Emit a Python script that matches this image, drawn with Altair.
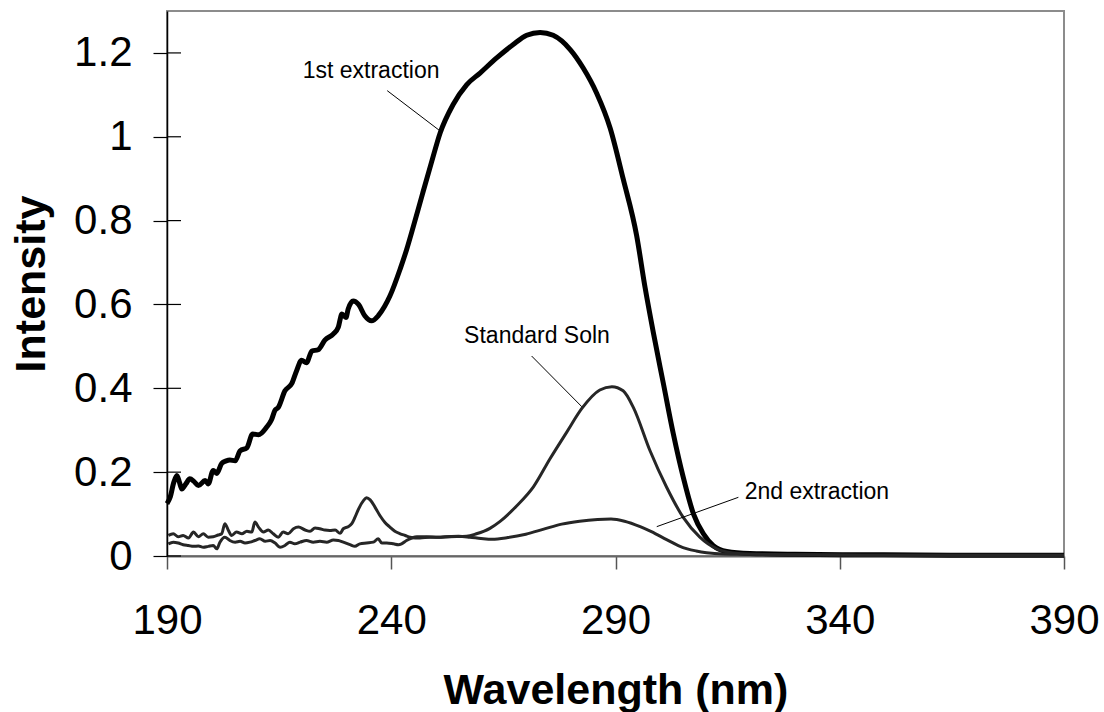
import altair as alt
import pandas as pd

# ---- data ----
wl_1st = [190, 190.7, 191.5, 192.2, 192.8, 193.3, 194.2, 195.1, 196, 197, 198.5, 199.2, 200.3, 201.1,
          202.2, 203.2, 204, 205.2, 206.3, 207.8, 209.1, 210.4, 212.2, 213.3, 214.1, 214.8, 216.3,
          217.8, 218.9, 220.0, 221.1, 222.3, 223.7, 225.2, 227.1, 228.2, 229.0, 229.9, 230.4, 231.5,
          232.7, 234.1, 235.6, 237.1, 238.5, 239.7, 242.0, 243.4, 244.9, 247, 249, 250.9, 253.8,
          256.8, 259.8, 263.5, 267.2, 270.2, 273.2, 276.1, 279.9, 282.8, 285.8, 288.8, 291.7, 294.7,
          296.6, 298.4, 300.7, 302.9, 305.1, 307.4, 309.6, 311.8, 314.8, 320, 330, 345, 365, 390]
int_1st = [0.125, 0.140, 0.175, 0.192, 0.175, 0.160, 0.172, 0.184, 0.178, 0.168, 0.180, 0.172, 0.204,
           0.197, 0.221, 0.227, 0.229, 0.227, 0.251, 0.258, 0.291, 0.289, 0.307, 0.325, 0.348, 0.354,
           0.394, 0.411, 0.442, 0.467, 0.461, 0.489, 0.492, 0.515, 0.530, 0.546, 0.577, 0.569, 0.589,
           0.608, 0.600, 0.573, 0.561, 0.573, 0.595, 0.620, 0.685, 0.730, 0.785, 0.865, 0.940, 1.009,
           1.077, 1.124, 1.152, 1.188, 1.220, 1.242, 1.249, 1.242, 1.208, 1.164, 1.104, 1.021, 0.900,
           0.765, 0.640, 0.535, 0.410, 0.291, 0.188, 0.100, 0.053, 0.025, 0.011, 0.006, 0.004, 0.003,
           0.002, 0.002]

wl_std = [190.3, 191.4, 192.5, 193.6, 194.8, 195.9, 197.0, 198.1, 199.2, 200.3, 201.1, 201.8, 202.9,
          204.0, 205.2, 206.3, 207.4, 208.5, 209.6, 210.7, 211.9, 213.0, 214.1, 215.2, 216.3, 217.4,
          218.5, 219.7, 221.1, 222.6, 224.1, 225.6, 227.1, 228.2, 229.3, 230.8, 231.9, 233.0, 234.5,
          236.0, 237.1, 237.9, 239.0, 240.5, 241.6, 242.3, 243.4, 244.6, 245.7, 247.9, 250.5, 253,
          256.8, 259, 262, 264.2, 268, 271.7, 275.4, 279.1, 282.5, 286.5, 289.2, 291.7, 294, 297.7,
          301.4, 305.1, 308.8, 312.6, 316.3, 320, 330, 345, 365, 390]
int_std = [0.029, 0.033, 0.031, 0.027, 0.025, 0.023, 0.024, 0.021, 0.023, 0.025, 0.017, 0.033, 0.045,
           0.037, 0.033, 0.035, 0.031, 0.033, 0.037, 0.041, 0.035, 0.037, 0.031, 0.021, 0.025, 0.033,
           0.029, 0.033, 0.037, 0.033, 0.035, 0.033, 0.038, 0.037, 0.033, 0.027, 0.023, 0.029, 0.031,
           0.033, 0.041, 0.031, 0.031, 0.029, 0.027, 0.029, 0.037, 0.043, 0.046, 0.046, 0.045, 0.046,
           0.047, 0.053, 0.066, 0.082, 0.120, 0.165, 0.232, 0.295, 0.352, 0.396, 0.404, 0.394, 0.354,
           0.251, 0.164, 0.092, 0.045, 0.017, 0.007, 0.004, 0.003, 0.002, 0.002, 0.002]

wl_2nd = [190.3, 191.4, 192.5, 193.6, 194.8, 195.9, 197.0, 198.1, 199.2, 200.3, 201.4, 202.2, 202.9,
          203.7, 204.4, 205.5, 206.7, 207.8, 208.9, 209.6, 210.4, 211.5, 212.6, 213.7, 214.8, 215.9,
          217.0, 218.2, 219.3, 220.8, 221.9, 223.0, 224.1, 225.2, 226.3, 227.5, 228.6, 229.3, 230.4,
          231.2, 231.9, 232.7, 233.8, 234.5, 235.3, 236.4, 237.5, 238.6, 239.7, 240.8, 242.0, 243.1,
          244.2, 245.3, 246.4, 248.6, 250.5, 252, 255, 257.5, 260, 262.5, 266, 270, 274, 278, 282,
          286, 289, 292, 295.5, 298, 301.4, 304, 306, 308, 310.3, 314, 320, 330, 345, 365, 390]
int_2nd = [0.049, 0.053, 0.046, 0.049, 0.043, 0.057, 0.046, 0.053, 0.045, 0.046, 0.050, 0.053, 0.077,
           0.061, 0.049, 0.057, 0.053, 0.059, 0.057, 0.081, 0.069, 0.057, 0.062, 0.053, 0.045, 0.057,
           0.053, 0.065, 0.069, 0.062, 0.059, 0.067, 0.065, 0.062, 0.061, 0.062, 0.054, 0.065, 0.070,
           0.077, 0.092, 0.112, 0.132, 0.139, 0.134, 0.116, 0.096, 0.080, 0.069, 0.059, 0.053, 0.049,
           0.045, 0.043, 0.043, 0.045, 0.045, 0.046, 0.047, 0.045, 0.042, 0.040, 0.044, 0.052, 0.064,
           0.076, 0.083, 0.087, 0.088, 0.083, 0.070, 0.058, 0.039, 0.025, 0.017, 0.012, 0.008, 0.005,
           0.004, 0.003, 0.002, 0.002, 0.002]

ann_text = ["1st extraction", "Standard Soln", "2nd extraction"]
ann_tx = [235.5, 272.5, 334.9]
ann_ty = [1.139, 0.508, 0.135]
lead_x1 = [239.1, 271.3, 317.4]
lead_y1 = [1.110, 0.477, 0.140]
lead_x2 = [251.25, 282.5, 299.2]
lead_y2 = [1.011, 0.356, 0.070]

x_ticks = [190, 240, 290, 340, 390]
y_ticks = [0, 0.2, 0.4, 0.6, 0.8, 1, 1.2]

# ---- tables ----
rows = []
for name, w, v in [("1st", wl_1st, int_1st), ("std", wl_std, int_std), ("2nd", wl_2nd, int_2nd)]:
    for a, b in zip(w, v):
        rows.append({"series": name, "wl": a, "val": b})
df = pd.DataFrame(rows)
ann = pd.DataFrame({"t": ann_text, "x": ann_tx, "y": ann_ty})
lead = pd.DataFrame({"x1": lead_x1, "y1": lead_y1, "x2": lead_x2, "y2": lead_y2})
yt = pd.DataFrame({"v": y_ticks})

FONT = "Liberation Sans"
W, H = 897, 545

xscale = alt.Scale(domain=[190, 390], nice=False, zero=False)
yscale = alt.Scale(domain=[0, 1.3], nice=False)

xaxis = alt.Axis(values=x_ticks, tickSize=13, tickColor="#555555", tickWidth=1.5,
                 domainColor="#666666", domainWidth=2, grid=False,
                 labelFont=FONT, labelFontSize=42, labelColor="black",
                 labelBaseline="alphabetic", labelPadding=64, labelFlush=False,
                 labelOverlap=False, labelBound=False,
                 title="Wavelength (nm)", titleFont=FONT, titleFontSize=43,
                 titleFontWeight="bold", titleColor="black",
                 titleX=W / 2, titleY=147, titleAlign="center", titleBaseline="alphabetic")

yaxis = alt.Axis(values=y_ticks, format="~g", tickSize=14, tickColor="black", tickWidth=1.2,
                 domainColor="black", domainWidth=1.5, grid=False,
                 labelFont=FONT, labelFontSize=42, labelColor="black", labelPadding=21,
                 labelOverlap=False, labelBound=False, labelFlush=False,
                 title="Intensity", titleFont=FONT, titleFontSize=43, titleFontWeight="bold",
                 titleColor="black", titleAngle=270, titleX=-123, titleY=H / 2,
                 titleAlign="center", titleBaseline="alphabetic")

X = alt.X("wl:Q", scale=xscale, axis=xaxis)
Y = alt.Y("val:Q", scale=yscale, axis=yaxis)

base = alt.Chart(df)

line1 = base.transform_filter(alt.datum.series == "1st").mark_line(
    color="black", strokeWidth=5, interpolate="monotone").encode(x=X, y=Y)

line_std = base.transform_filter(alt.datum.series == "std").mark_line(
    color="#262626", strokeWidth=3, interpolate="monotone").encode(x=X, y=Y)

line_2nd = base.transform_filter(alt.datum.series == "2nd").mark_line(
    color="#262626", strokeWidth=3, interpolate="monotone").encode(x=X, y=Y)

# inward half of the y ticks (the reference's ticks cross the axis)
ticks_in = alt.Chart(yt).mark_rule(color="black", strokeWidth=1.2).encode(
    x=alt.value(0), x2=alt.value(14), y=alt.Y("v:Q", scale=yscale, axis=yaxis))

leaders = alt.Chart(lead).mark_rule(color="black", strokeWidth=1).encode(
    x=alt.X("x1:Q", scale=xscale, axis=xaxis), y=alt.Y("y1:Q", scale=yscale, axis=yaxis),
    x2="x2:Q", y2="y2:Q")

labels = alt.Chart(ann).mark_text(font=FONT, fontSize=23, color="black",
                                   align="center", baseline="alphabetic").encode(
    x=alt.X("x:Q", scale=xscale, axis=xaxis), y=alt.Y("y:Q", scale=yscale, axis=yaxis),
    text="t:N")

chart = alt.layer(line1, line_std, line_2nd, ticks_in, leaders, labels).properties(
    width=W, height=H,
    autosize=alt.AutoSizeParams(type="none"),
    padding={"left": 167, "top": 11, "right": 1104 - 167 - W, "bottom": 712 - 11 - H},
    background="white",
).configure_view(stroke="#8c8c8c", strokeWidth=2)

chart.save("out.html", embed_options={"renderer": "svg", "actions": False})
